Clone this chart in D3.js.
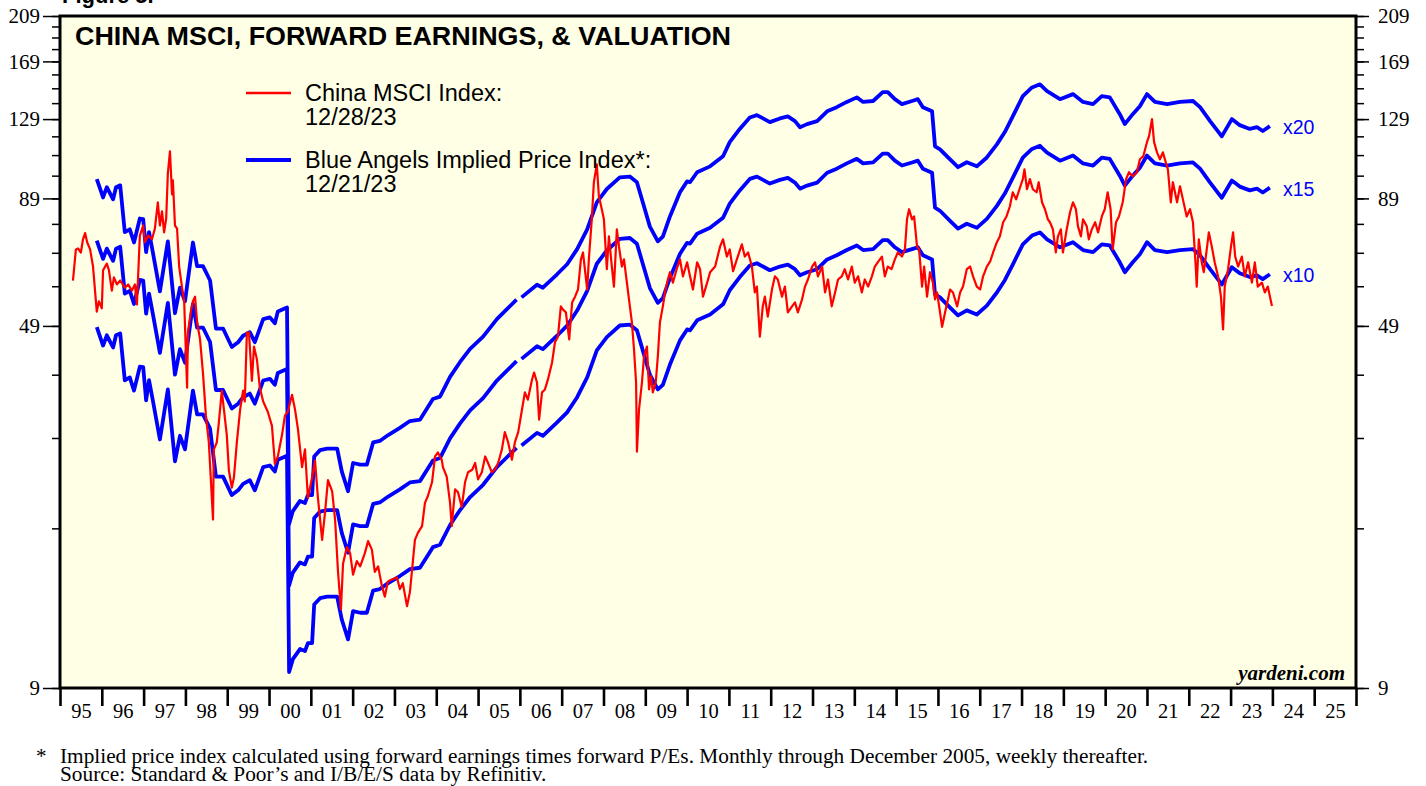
<!DOCTYPE html>
<html lang="en">
<head>
<meta charset="UTF-8">
<title>China MSCI, Forward Earnings, &amp; Valuation</title>
<script src="https://d3js.org/d3.v7.min.js"></script>
<style>
    body { margin: 0; background: #fff; }
    svg { display: block; }
    .serif { font-family: "Liberation Serif", "Times New Roman", serif; }
    .sans { font-family: "Liberation Sans", Arial, sans-serif; }
</style>
</head>
<body>
<svg width="1426" height="786"></svg>
<script>
    // ---- data ----
    // China MSCI index (decimal year, index level)
    const msciDates = [1995.31,1995.38,1995.43,1995.50,1995.55,1995.60,1995.65,1995.72,1995.79,1995.88,1995.93,1996.00,1996.03,1996.12,1996.17,1996.24,1996.29,1996.36,1996.44,1996.55,1996.63,1996.72,1996.79,1996.84,1996.91,1996.99,1997.03,1997.11,1997.20,1997.27,1997.34,1997.39,1997.44,1997.49,1997.54,1997.58,1997.63,1997.68,1997.70,1997.75,1997.80,1997.85,1997.92,1997.97,1998.04,1998.06,1998.13,1998.18,1998.23,1998.28,1998.35,1998.42,1998.49,1998.56,1998.66,1998.68,1998.75,1998.80,1998.87,1998.92,1998.99,1999.04,1999.11,1999.16,1999.23,1999.31,1999.38,1999.42,1999.47,1999.52,1999.59,1999.64,1999.71,1999.78,1999.86,1999.97,2000.07,2000.14,2000.21,2000.31,2000.38,2000.45,2000.55,2000.62,2000.69,2000.79,2000.86,2000.93,2001.03,2001.10,2001.17,2001.27,2001.34,2001.41,2001.51,2001.58,2001.65,2001.72,2001.77,2001.86,2001.94,2002.01,2002.10,2002.18,2002.29,2002.37,2002.46,2002.53,2002.61,2002.70,2002.77,2002.84,2002.89,2003.06,2003.13,2003.20,2003.30,2003.37,2003.42,2003.49,2003.56,2003.66,2003.68,2003.73,2003.80,2003.90,2003.97,2004.04,2004.13,2004.16,2004.25,2004.33,2004.37,2004.45,2004.52,2004.61,2004.69,2004.76,2004.86,2004.93,2005.00,2005.09,2005.17,2005.24,2005.33,2005.40,2005.48,2005.57,2005.64,2005.72,2005.81,2005.88,2005.96,2006.05,2006.12,2006.19,2006.29,2006.34,2006.41,2006.46,2006.53,2006.60,2006.67,2006.77,2006.84,2006.91,2006.98,2007.03,2007.10,2007.18,2007.25,2007.32,2007.39,2007.46,2007.51,2007.61,2007.65,2007.72,2007.77,2007.84,2007.89,2007.96,2008.01,2008.08,2008.13,2008.20,2008.25,2008.32,2008.37,2008.44,2008.49,2008.56,2008.61,2008.68,2008.73,2008.78,2008.80,2008.85,2008.92,2008.97,2009.04,2009.09,2009.14,2009.18,2009.25,2009.30,2009.35,2009.42,2009.47,2009.54,2009.59,2009.66,2009.75,2009.83,2009.90,2010.00,2010.07,2010.14,2010.24,2010.31,2010.38,2010.48,2010.55,2010.67,2010.79,2010.86,2010.95,2011.02,2011.10,2011.19,2011.31,2011.38,2011.46,2011.55,2011.62,2011.67,2011.74,2011.81,2011.86,2011.93,2012.03,2012.10,2012.17,2012.27,2012.34,2012.41,2012.51,2012.58,2012.65,2012.75,2012.82,2012.89,2012.99,2013.06,2013.13,2013.23,2013.30,2013.37,2013.46,2013.54,2013.61,2013.70,2013.77,2013.85,2013.94,2014.01,2014.09,2014.18,2014.25,2014.33,2014.42,2014.49,2014.56,2014.66,2014.73,2014.80,2014.89,2014.97,2015.04,2015.14,2015.21,2015.26,2015.31,2015.38,2015.43,2015.50,2015.55,2015.62,2015.67,2015.74,2015.81,2015.88,2015.93,2015.98,2016.05,2016.10,2016.17,2016.24,2016.29,2016.36,2016.46,2016.53,2016.60,2016.69,2016.77,2016.84,2016.93,2017.01,2017.08,2017.17,2017.25,2017.32,2017.41,2017.48,2017.56,2017.64,2017.72,2017.79,2017.87,2017.95,2018.03,2018.07,2018.13,2018.20,2018.27,2018.36,2018.41,2018.49,2018.56,2018.63,2018.68,2018.75,2018.82,2018.87,2018.94,2018.99,2019.08,2019.16,2019.23,2019.30,2019.35,2019.42,2019.47,2019.56,2019.61,2019.68,2019.76,2019.83,2019.92,2019.99,2020.06,2020.13,2020.18,2020.26,2020.33,2020.42,2020.50,2020.57,2020.66,2020.76,2020.83,2020.91,2021.00,2021.05,2021.12,2021.17,2021.24,2021.31,2021.38,2021.45,2021.50,2021.57,2021.62,2021.72,2021.79,2021.86,2021.95,2022.03,2022.10,2022.17,2022.19,2022.24,2022.31,2022.36,2022.43,2022.48,2022.55,2022.62,2022.70,2022.77,2022.82,2022.86,2022.94,2023.01,2023.06,2023.11,2023.18,2023.27,2023.34,2023.42,2023.51,2023.58,2023.65,2023.75,2023.82,2023.89,2023.99];
    const msciValues = [60.6,70.1,70.4,69.1,73.5,75.7,72.5,70.1,64.7,52.4,55.0,53.2,63.6,65.6,63.6,57.8,61.5,59.5,60.6,58.6,59.5,57.8,59.5,54.2,74.8,78.4,72.5,74.8,73.5,77.3,87.4,78.4,83.8,75.9,81.0,100.1,110.9,90.7,96.9,78.4,77.3,64.7,58.6,55.0,36.7,47.5,52.4,55.0,56.2,49.8,46.0,39.3,32.2,28.4,19.8,27.5,28.4,31.2,36.2,33.2,29.4,24.9,23.0,24.1,28.4,33.2,36.2,34.4,47.5,47.5,37.9,44.5,41.9,36.7,34.4,32.8,30.7,25.7,26.6,29.4,32.2,32.8,35.5,33.2,30.3,25.3,27.5,21.9,24.1,26.1,21.9,18.0,20.5,23.8,22.6,19.8,15.5,13.0,16.1,17.4,16.9,15.3,16.3,15.9,16.9,17.9,17.2,15.5,15.9,14.5,13.8,14.8,14.9,15.1,14.3,14.7,13.2,14.1,15.6,18.0,18.6,19.2,19.8,21.4,22.1,23.6,26.6,27.1,26.2,25.3,24.2,21.4,19.2,22.8,22.5,21.0,23.6,24.7,25.0,25.8,23.9,24.7,26.6,25.8,24.7,25.0,25.8,27.5,29.8,28.4,26.2,28.4,29.8,33.1,35.9,34.7,38.1,39.4,37.6,31.6,35.9,36.4,38.1,41.3,45.4,46.6,53.7,52.9,52.2,46.0,54.7,56.2,58.1,66.9,69.1,58.1,66.9,80.7,96.0,104.4,89.9,84.6,80.7,63.9,74.5,64.7,58.9,77.0,71.1,64.7,66.9,60.0,55.5,49.8,43.9,37.6,27.2,33.1,37.6,42.5,44.5,36.4,38.7,35.9,37.6,42.5,49.8,53.7,57.3,60.9,63.0,60.0,63.9,66.9,61.8,66.0,61.8,58.1,66.0,63.9,56.2,60.0,63.0,64.7,71.1,73.5,67.8,70.1,63.3,66.9,71.8,67.8,69.1,64.7,57.3,58.9,46.6,53.7,56.2,51.2,58.1,61.8,60.9,56.2,58.9,52.2,53.7,54.7,52.2,55.5,58.9,60.9,64.7,66.0,61.8,64.7,57.3,60.9,53.7,57.3,60.9,61.8,63.9,60.9,64.7,60.0,61.8,57.3,60.9,58.9,61.8,64.7,66.0,67.8,61.8,64.7,63.9,66.9,69.1,67.8,70.1,80.7,84.6,80.7,81.8,71.1,70.1,58.9,64.7,56.2,63.0,60.0,55.5,57.3,52.2,48.8,52.2,55.5,58.1,57.3,53.7,57.3,58.9,63.9,64.7,61.8,58.9,58.1,61.8,64.7,66.3,69.1,72.5,74.5,79.6,81.8,85.7,91.6,88.6,92.9,97.4,102.0,92.9,97.4,92.9,91.6,96.0,87.4,84.6,80.7,79.6,77.0,69.1,74.5,77.0,69.1,77.0,83.4,87.4,84.6,78.1,74.5,80.7,78.1,73.5,77.0,79.6,75.9,81.8,84.6,91.6,84.6,70.1,79.6,81.8,87.4,97.4,100.6,98.7,100.6,106.9,108.3,115.8,119.1,129.0,115.8,110.4,106.9,110.4,105.4,102.0,87.4,96.0,87.4,94.2,88.6,81.8,84.6,79.6,63.9,58.9,73.5,66.0,63.0,70.1,75.9,71.1,66.0,61.8,56.2,48.2,58.9,63.9,71.1,75.9,67.8,64.7,67.8,61.8,66.0,60.0,66.0,58.9,60.0,57.3,58.9,53.8];

    // forward earnings, monthly through December 2005
    const monthlyDates = [1995.88,1996.03,1996.12,1996.27,1996.34,1996.44,1996.55,1996.67,1996.77,1996.91,1996.99,1997.06,1997.13,1997.22,1997.39,1997.58,1997.75,1997.87,1997.99,1998.18,1998.28,1998.42,1998.59,1998.73,1998.90,1999.11,1999.26,1999.38,1999.54,1999.66,1999.86,2000.02,2000.14,2000.21,2000.43,2000.48,2000.57,2000.74,2000.86,2000.93,2001.03,2001.08,2001.22,2001.39,2001.63,2001.74,2001.89,2002.01,2002.18,2002.34,2002.49,2002.65,2002.85,2003.13,2003.37,2003.61,2003.92,2004.09,2004.33,2004.57,2004.81,2005.12,2005.45,2005.69,2005.92];
    const monthlyEps = [4.87,4.47,4.69,4.43,4.69,4.73,3.80,3.85,3.62,4.05,4.04,3.46,3.80,3.46,2.88,3.64,2.60,2.93,2.75,3.62,3.24,3.24,3.03,2.42,2.42,2.22,2.27,2.34,2.38,2.27,2.53,2.55,2.48,2.62,2.67,0.97,1.03,1.08,1.07,1.11,1.11,1.33,1.37,1.38,1.38,1.24,1.13,1.29,1.28,1.28,1.42,1.43,1.47,1.52,1.57,1.58,1.74,1.76,1.93,2.07,2.20,2.33,2.53,2.65,2.77];

    // forward earnings, weekly thereafter
    const weeklyDates = [2006.04,2006.41,2006.55,2006.89,2007.13,2007.37,2007.61,2007.84,2008.08,2008.39,2008.63,2008.80,2008.94,2009.11,2009.30,2009.42,2009.59,2009.83,2010.00,2010.07,2010.24,2010.55,2010.86,2011.02,2011.26,2011.50,2011.67,2011.98,2012.22,2012.41,2012.58,2012.70,2012.87,2013.11,2013.35,2013.58,2013.82,2014.06,2014.21,2014.45,2014.68,2014.80,2014.97,2015.14,2015.38,2015.52,2015.64,2015.86,2015.93,2016.05,2016.29,2016.48,2016.69,2016.93,2017.17,2017.41,2017.60,2017.79,2018.03,2018.25,2018.44,2018.61,2018.92,2019.23,2019.47,2019.71,2019.92,2020.11,2020.35,2020.47,2020.66,2020.83,2021.00,2021.19,2021.48,2021.79,2022.10,2022.27,2022.51,2022.79,2023.03,2023.22,2023.46,2023.63,2023.77,2023.94];
    const weeklyEps = [2.80,2.97,2.93,3.12,3.27,3.51,3.85,4.37,4.65,4.91,4.93,4.80,4.37,3.90,3.64,3.72,4.09,4.58,4.82,4.80,5.03,5.17,5.42,5.79,6.16,6.50,6.57,6.36,6.47,6.53,6.39,6.21,6.30,6.39,6.69,6.82,6.99,7.14,6.99,7.02,7.32,7.32,7.08,6.92,7.02,7.08,6.82,6.69,5.68,5.60,5.34,5.15,5.27,5.17,5.39,5.73,6.07,6.53,7.18,7.48,7.59,7.35,7.08,7.25,6.99,6.92,7.18,7.14,6.60,6.30,6.60,6.85,7.25,6.99,6.92,6.99,7.02,6.82,6.39,5.95,6.45,6.27,6.16,6.21,6.10,6.24];

    // forward P/E multiples drawn as the Blue Angels
    const multiples = [20, 15, 10];
    const multipleLabels = ["x20", "x15", "x10"];

    const yearLabels = ["95","96","97","98","99","00","01","02","03","04","05","06","07","08","09","10",
                        "11","12","13","14","15","16","17","18","19","20","21","22","23","24","25"];
    const yTickValues = [9,19,29,39,49,59,69,79,89,99,109,119,129,139,149,159,169,179,189,199,209];
    const yLabelValues = [9, 49, 89, 129, 169, 209];

    // ---- layout ----
    let svg = d3.select("svg");
    let plotLeft = 60, plotRight = 1356, plotTop = 16, plotBottom = 688;

    let x = d3.scaleLinear().domain([1995, 2026]).range([plotLeft, plotRight]);
    let y = d3.scaleLog().domain([9, 209]).range([plotBottom, plotTop]);

    // figure caption above the frame, cut off by the top edge as in the source
    svg.append("text").attr("class", "sans")
        .attr("x", 62).attr("y", 3)
        .attr("font-size", 22).attr("font-weight", "bold")
        .text("Figure 5.");

    svg.append("rect")
        .attr("x", plotLeft).attr("y", plotTop)
        .attr("width", plotRight - plotLeft).attr("height", plotBottom - plotTop)
        .attr("fill", "#ffffe6");

    // ---- blue angels: monthly and weekly pieces drawn separately ----
    let line = d3.line().x(d => x(d[0])).y(d => y(d[1]));
    let pieces = [[monthlyDates, monthlyEps], [weeklyDates, weeklyEps]];

    multiples.forEach(m => {
        pieces.forEach(p => {
            let pts = p[0].map((d, i) => [d, p[1][i] * m]);
            svg.append("path")
                .datum(pts)
                .attr("d", line)
                .attr("fill", "none")
                .attr("stroke", "#0000ff")
                .attr("stroke-width", 3.8)
                .attr("stroke-linejoin", "round");
        });
    });

    // ---- China MSCI ----
    svg.append("path")
        .datum(msciDates.map((d, i) => [d, msciValues[i]]))
        .attr("d", line)
        .attr("fill", "none")
        .attr("stroke", "#ff0000")
        .attr("stroke-width", 2.2)
        .attr("stroke-linejoin", "round");

    // multiple labels at the end of the weekly series
    let lastDate = weeklyDates[weeklyDates.length - 1];
    let lastEps = weeklyEps[weeklyEps.length - 1];
    multiples.forEach((m, i) => {
        svg.append("text").attr("class", "sans")
            .attr("x", x(lastDate) + 13)
            .attr("y", y(lastEps * m) + 8)
            .attr("font-size", 19.5)
            .attr("fill", "#0000ff")
            .text(multipleLabels[i]);
    });

    // frame
    svg.append("rect")
        .attr("x", plotLeft).attr("y", plotTop)
        .attr("width", plotRight - plotLeft).attr("height", plotBottom - plotTop)
        .attr("fill", "none")
        .attr("stroke", "#000")
        .attr("stroke-width", 3);

    // ---- y axes, left and right ----
    function styleAxis(g, width) {
        g.select(".domain").remove();
        g.selectAll(".tick line").attr("stroke", "#000").attr("stroke-width", width);
        g.selectAll("text").attr("class", "serif").attr("font-size", 21).attr("fill", "#000");
    }

    svg.append("g").attr("transform", "translate(" + plotLeft + ",0)")
        .call(d3.axisLeft(y).tickValues(yTickValues).tickSize(8).tickFormat(""))
        .call(g => styleAxis(g, 1.5));
    svg.append("g").attr("transform", "translate(" + plotLeft + ",0)")
        .call(d3.axisLeft(y).tickValues(yLabelValues).tickSize(17).tickPadding(3).tickFormat(d3.format("d")))
        .call(g => styleAxis(g, 1.5));

    svg.append("g").attr("transform", "translate(" + plotRight + ",0)")
        .call(d3.axisRight(y).tickValues(yTickValues).tickSize(8).tickFormat(""))
        .call(g => styleAxis(g, 1.5));
    svg.append("g").attr("transform", "translate(" + plotRight + ",0)")
        .call(d3.axisRight(y).tickValues(yLabelValues).tickSize(13).tickPadding(9).tickFormat(d3.format("d")))
        .call(g => styleAxis(g, 1.5));

    // ---- x axis: year boundaries with labels centred in each year ----
    svg.append("g").attr("transform", "translate(0," + plotBottom + ")")
        .call(d3.axisBottom(x).tickValues(d3.range(1995, 2027)).tickSize(18).tickFormat(""))
        .call(g => styleAxis(g, 2.6));

    svg.append("g").attr("transform", "translate(0," + plotBottom + ")")
        .call(d3.axisBottom(x).tickValues(yearLabels.map((s, i) => 1995.5 + i))
            .tickSize(0).tickPadding(15).tickFormat((d, i) => yearLabels[i]))
        .call(g => styleAxis(g, 0))
        .selectAll("text").attr("font-size", 20.5);

    // ---- title, legend, credits ----
    svg.append("text").attr("class", "sans")
        .attr("x", 75).attr("y", 45)
        .attr("font-size", 25).attr("font-weight", "bold")
        .attr("textLength", 656).attr("lengthAdjust", "spacingAndGlyphs")
        .text("CHINA MSCI, FORWARD EARNINGS, & VALUATION");

    let legend = [
        { color: "#ff0000", width: 2.5, y: 93, lines: ["China MSCI Index:", "12/28/23"] },
        { color: "#0000ff", width: 4, y: 160, lines: ["Blue Angels Implied Price Index*:", "12/21/23"] }
    ];
    legend.forEach(d => {
        svg.append("line")
            .attr("x1", 246).attr("x2", 291)
            .attr("y1", d.y).attr("y2", d.y)
            .attr("stroke", d.color).attr("stroke-width", d.width);
        d.lines.forEach((t, i) => {
            svg.append("text").attr("class", "sans")
                .attr("x", 305).attr("y", d.y + 8 + i * 24)
                .attr("font-size", 23.5)
                .text(t);
        });
    });

    svg.append("text").attr("class", "serif")
        .attr("x", 1345).attr("y", 680)
        .attr("text-anchor", "end")
        .attr("font-size", 21).attr("font-weight", "bold").attr("font-style", "italic")
        .text("yardeni.com");

    svg.append("text").attr("class", "serif")
        .attr("x", 36).attr("y", 763).attr("font-size", 21)
        .text("*");
    svg.append("text").attr("class", "serif")
        .attr("x", 60).attr("y", 763).attr("font-size", 21.3)
        .text("Implied price index calculated using forward earnings times forward P/Es. Monthly through December 2005, weekly thereafter.");
    svg.append("text").attr("class", "serif")
        .attr("x", 60).attr("y", 781).attr("font-size", 21.3)
        .text("Source: Standard & Poor\u2019s and I/B/E/S data by Refinitiv.");
</script>
</body>
</html>
